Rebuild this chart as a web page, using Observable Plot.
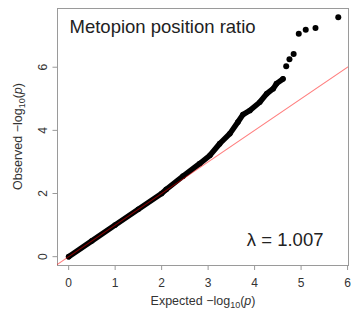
<!DOCTYPE html>
<html>
<head>
<meta charset="utf-8">
<script src="https://cdn.jsdelivr.net/npm/d3@7"></script>
<script src="https://cdn.jsdelivr.net/npm/@observablehq/plot@0.6"></script>
<style>
  html, body { margin: 0; padding: 0; background: #fff; }
  svg text { font-family: "Liberation Sans", Arial, sans-serif; }
</style>
</head>
<body>
<div id="chart"></div>
<script>
// Main QQ band (expected vs observed -log10 p)
const expected = [0.00, 0.50, 1.00, 1.50, 2.00, 2.10, 2.46, 2.82, 3.04, 3.25, 3.47, 3.64, 3.75, 3.90, 4.11, 4.26, 4.40, 4.47, 4.61];
const observed = [0.00, 0.50, 1.00, 1.50, 2.00, 2.13, 2.55, 2.95, 3.21, 3.58, 3.90, 4.26, 4.50, 4.63, 4.89, 5.16, 5.32, 5.48, 5.63];
// Separate top points
const tailExpected = [4.68, 4.75, 4.84, 4.95, 5.10, 5.31, 5.80];
const tailObserved = [6.03, 6.25, 6.42, 7.06, 7.19, 7.24, 7.58];
// y = x reference line
const refLine = [-0.5, 6.5];
const xTicks = [0, 1, 2, 3, 4, 5, 6];
const yTicks = [0, 2, 4, 6];
const title = "Metopion position ratio";
const lambdaText = "λ = 1.007";

const band = expected.map((e, i) => ({e, o: observed[i]}));
const tail = tailExpected.map((e, i) => ({e, o: tailObserved[i]}));
const ref = refLine.map(v => ({e: v, o: v}));

const gray = "#9a9a9a";
const textCol = "#333";

const plot = Plot.plot({
  width: 351,
  height: 311,
  marginLeft: 57,
  marginRight: 3,
  marginTop: 8,
  marginBottom: 46,
  style: {background: "#fff", color: textCol},
  x: {domain: [-0.24, 6.02]},
  y: {domain: [-0.28, 7.86]},
  marks: [
    Plot.frame({stroke: gray}),
    Plot.axisX({ticks: xTicks, tickFormat: d => String(d), tickSize: 5, tickPadding: 7.5, label: null, fontSize: 12, stroke: gray, fill: textCol}),
    Plot.axisY({ticks: yTicks, tickFormat: d => String(d), tickSize: 4.5, tickPadding: 6, label: null, fontSize: 12, tickRotate: -90, stroke: gray, fill: textCol}),
    Plot.line(band, {x: "e", y: "o", stroke: "black", strokeWidth: 5.5, strokeLinejoin: "round", strokeLinecap: "round"}),
    Plot.dot(band, {x: "e", y: "o", r: 2.8, fill: "black"}),
    Plot.dot(tail, {x: "e", y: "o", r: 3, fill: "black"}),
    Plot.line(ref, {x: "e", y: "o", stroke: "red", strokeOpacity: 0.5, strokeWidth: 1.1, clip: true}),
    Plot.text([title], {frameAnchor: "top-left", dx: 12, dy: 11, text: d => d, fontSize: 18.5, fill: "#222", textAnchor: "start", lineAnchor: "top"}),
    Plot.text([lambdaText], {frameAnchor: "bottom-right", dx: -25, dy: -20, text: d => d, fontSize: 18.5, fill: "#222", textAnchor: "end", lineAnchor: "bottom"})
  ]
});
document.getElementById("chart").appendChild(plot);

// Axis titles with subscript and italic p
const svg = d3.select(plot);
function axisTitle(g, word) {
  g.append("tspan").text(word + " \u2212log");
  g.append("tspan").attr("font-size", "9px").attr("dy", "3").text("10");
  g.append("tspan").attr("dy", "-3").text("(");
  g.append("tspan").attr("font-style", "italic").text("p");
  g.append("tspan").text(")");
}
const xt = svg.append("text")
  .attr("x", 203).attr("y", 305)
  .attr("text-anchor", "middle")
  .attr("font-size", "12.5px")
  .attr("fill", textCol);
axisTitle(xt, "Expected");
const yt = svg.append("text")
  .attr("transform", "translate(22,136.5) rotate(-90)")
  .attr("text-anchor", "middle")
  .attr("font-size", "12.5px")
  .attr("fill", textCol);
axisTitle(yt, "Observed");
</script>
</body>
</html>
